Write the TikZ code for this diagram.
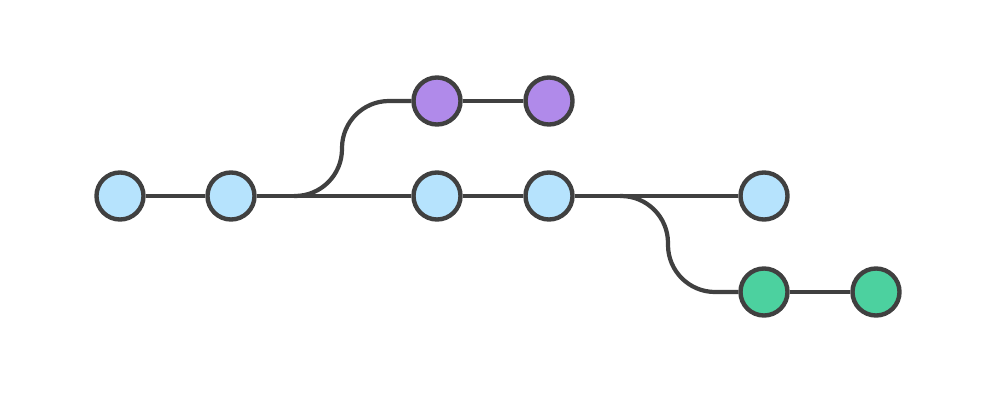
\documentclass[tikz,border=0pt]{standalone}
\usepackage{tikz}
\usetikzlibrary{positioning}
\definecolor{mainblue}{RGB}{182,227,253}
\definecolor{featpurple}{RGB}{176,138,234}
\definecolor{featgreen}{RGB}{76,209,159}
\definecolor{linegray}{RGB}{64,64,64}

\begin{document}
\begin{tikzpicture}[x=0.01cm,y=-0.01cm,
    commit/.style={circle,draw=linegray,line width=1.25pt,minimum size=0.47cm,inner sep=0pt},
    branch/.style={draw=linegray,line width=1.2pt}]
    \useasboundingbox (0,0) rectangle (1000,400);
    % main line
    \node[commit,fill=mainblue] (m1) at (120,196) {};
    \node[commit,fill=mainblue] (m2) at (231,196) {};
    \node[commit,fill=mainblue] (m3) at (437,196) {};
    \node[commit,fill=mainblue] (m4) at (549,196) {};
    \node[commit,fill=mainblue] (m5) at (764,196) {};
    % feature branches
    \node[commit,fill=featpurple] (p1) at (437,101) {};
    \node[commit,fill=featpurple] (p2) at (549,101) {};
    \node[commit,fill=featgreen] (g1) at (764,292) {};
    \node[commit,fill=featgreen] (g2) at (876,292) {};
    \coordinate (f1) at (294,196);
    \coordinate (f2) at (620,196);
    \draw[branch] (m1) -- (m2) -- (m3) -- (m4) -- (m5);
    \draw[branch] (p1) -- (p2);
    \draw[branch] (g1) -- (g2);
    \draw[branch,rounded corners=0.47cm] (f1) -- ++(48,0) |- (p1.west);
    \draw[branch,rounded corners=0.47cm] (f2) -- ++(48,0) |- (g1.west);
\end{tikzpicture}
\end{document}
